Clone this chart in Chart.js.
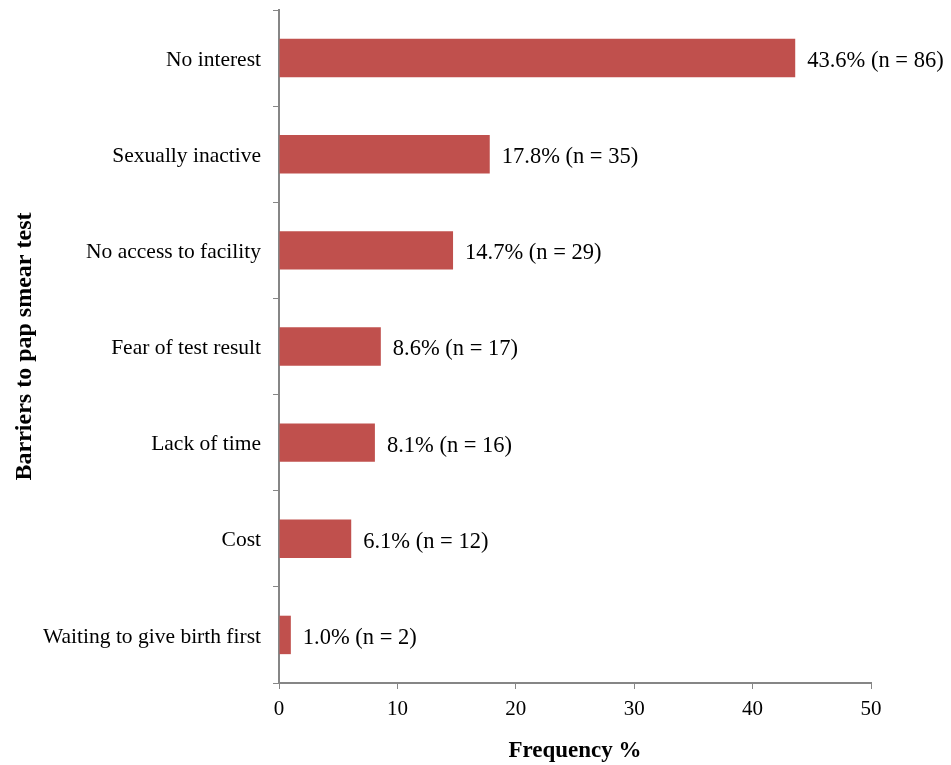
<!DOCTYPE html>
<html lang="en">

<head>
  <meta charset="UTF-8">
  <title>Barriers to pap smear test</title>
  <script src="https://cdn.jsdelivr.net/npm/chart.js"></script>
  <style>
    body { margin: 0; background: #fff; }
    #wrap { width: 951px; height: 765px; }
  </style>
</head>

<body>
  <div id="wrap"><canvas id="chartBarriers"></canvas></div>

  <script>
    const barriers = ['No interest', 'Sexually inactive', 'No access to facility', 'Fear of test result',
      'Lack of time', 'Cost', 'Waiting to give birth first'];
    const percents = [43.6, 17.8, 14.7, 8.6, 8.1, 6.1, 1.0];
    const counts = [86, 35, 29, 17, 16, 12, 2];
    const xTicks = [0, 10, 20, 30, 40, 50];

    const axisGray = '#868686';
    const serif = "'Liberation Serif', 'Times New Roman', serif";

    // write "43.6% (n = 86)" after each bar
    const barLabels = {
      id: 'barLabels',
      afterDatasetsDraw(chart) {
        const ctx = chart.ctx;
        const meta = chart.getDatasetMeta(0);
        ctx.save();
        ctx.font = '22.5px ' + serif;
        ctx.fillStyle = '#000';
        ctx.textAlign = 'left';
        ctx.textBaseline = 'middle';
        meta.data.forEach((bar, i) => {
          const txt = percents[i].toFixed(1) + '% (n = ' + counts[i] + ')';
          ctx.fillText(txt, bar.x + 12, bar.y + 3);
        });
        ctx.restore();
      }
    };

    new Chart(document.getElementById('chartBarriers'), {
      type: 'bar',
      data: {
        labels: barriers,
        datasets: [{
          data: percents,
          backgroundColor: '#C0504D',
          borderWidth: 0,
          barPercentage: 0.4,
          categoryPercentage: 1
        }]
      },
      options: {
        indexAxis: 'y',
        responsive: true,
        maintainAspectRatio: false,
        animation: false,
        layout: { padding: { top: 10, right: 80, left: 10, bottom: 0 } },
        plugins: { legend: { display: false }, tooltip: { enabled: false } },
        scales: {
          x: {
            min: 0,
            max: 50,
            afterBuildTicks: (axis) => { axis.ticks = xTicks.map(v => ({ value: v })); },
            afterFit: (axis) => { axis.height = 82; },
            border: { color: axisGray, width: 2 },
            grid: { drawOnChartArea: false, color: axisGray, lineWidth: 1, tickLength: 6 },
            ticks: { color: '#000', font: { family: serif, size: 21 }, padding: 8 },
            title: {
              display: true,
              text: 'Frequency %',
              color: '#000',
              font: { family: serif, size: 23, weight: 'bold' },
              padding: { top: 14, bottom: 0 }
            }
          },
          y: {
            offset: true,
            afterFit: (axis) => {
              axis.width = 269;
              axis.paddingTop = 0;
              axis.paddingBottom = 0;
            },
            border: { color: axisGray, width: 2 },
            grid: { offset: true, drawOnChartArea: false, color: axisGray, lineWidth: 1, tickLength: 6 },
            ticks: { color: '#000', font: { family: serif, size: 21.5 }, padding: 12, labelOffset: 2 },
            title: {
              display: true,
              text: 'Barriers to pap smear test',
              color: '#000',
              font: { family: serif, size: 24, weight: 'bold' },
              padding: { top: 0, bottom: 0 }
            }
          }
        }
      },
      plugins: [barLabels]
    });
  </script>
</body>

</html>
